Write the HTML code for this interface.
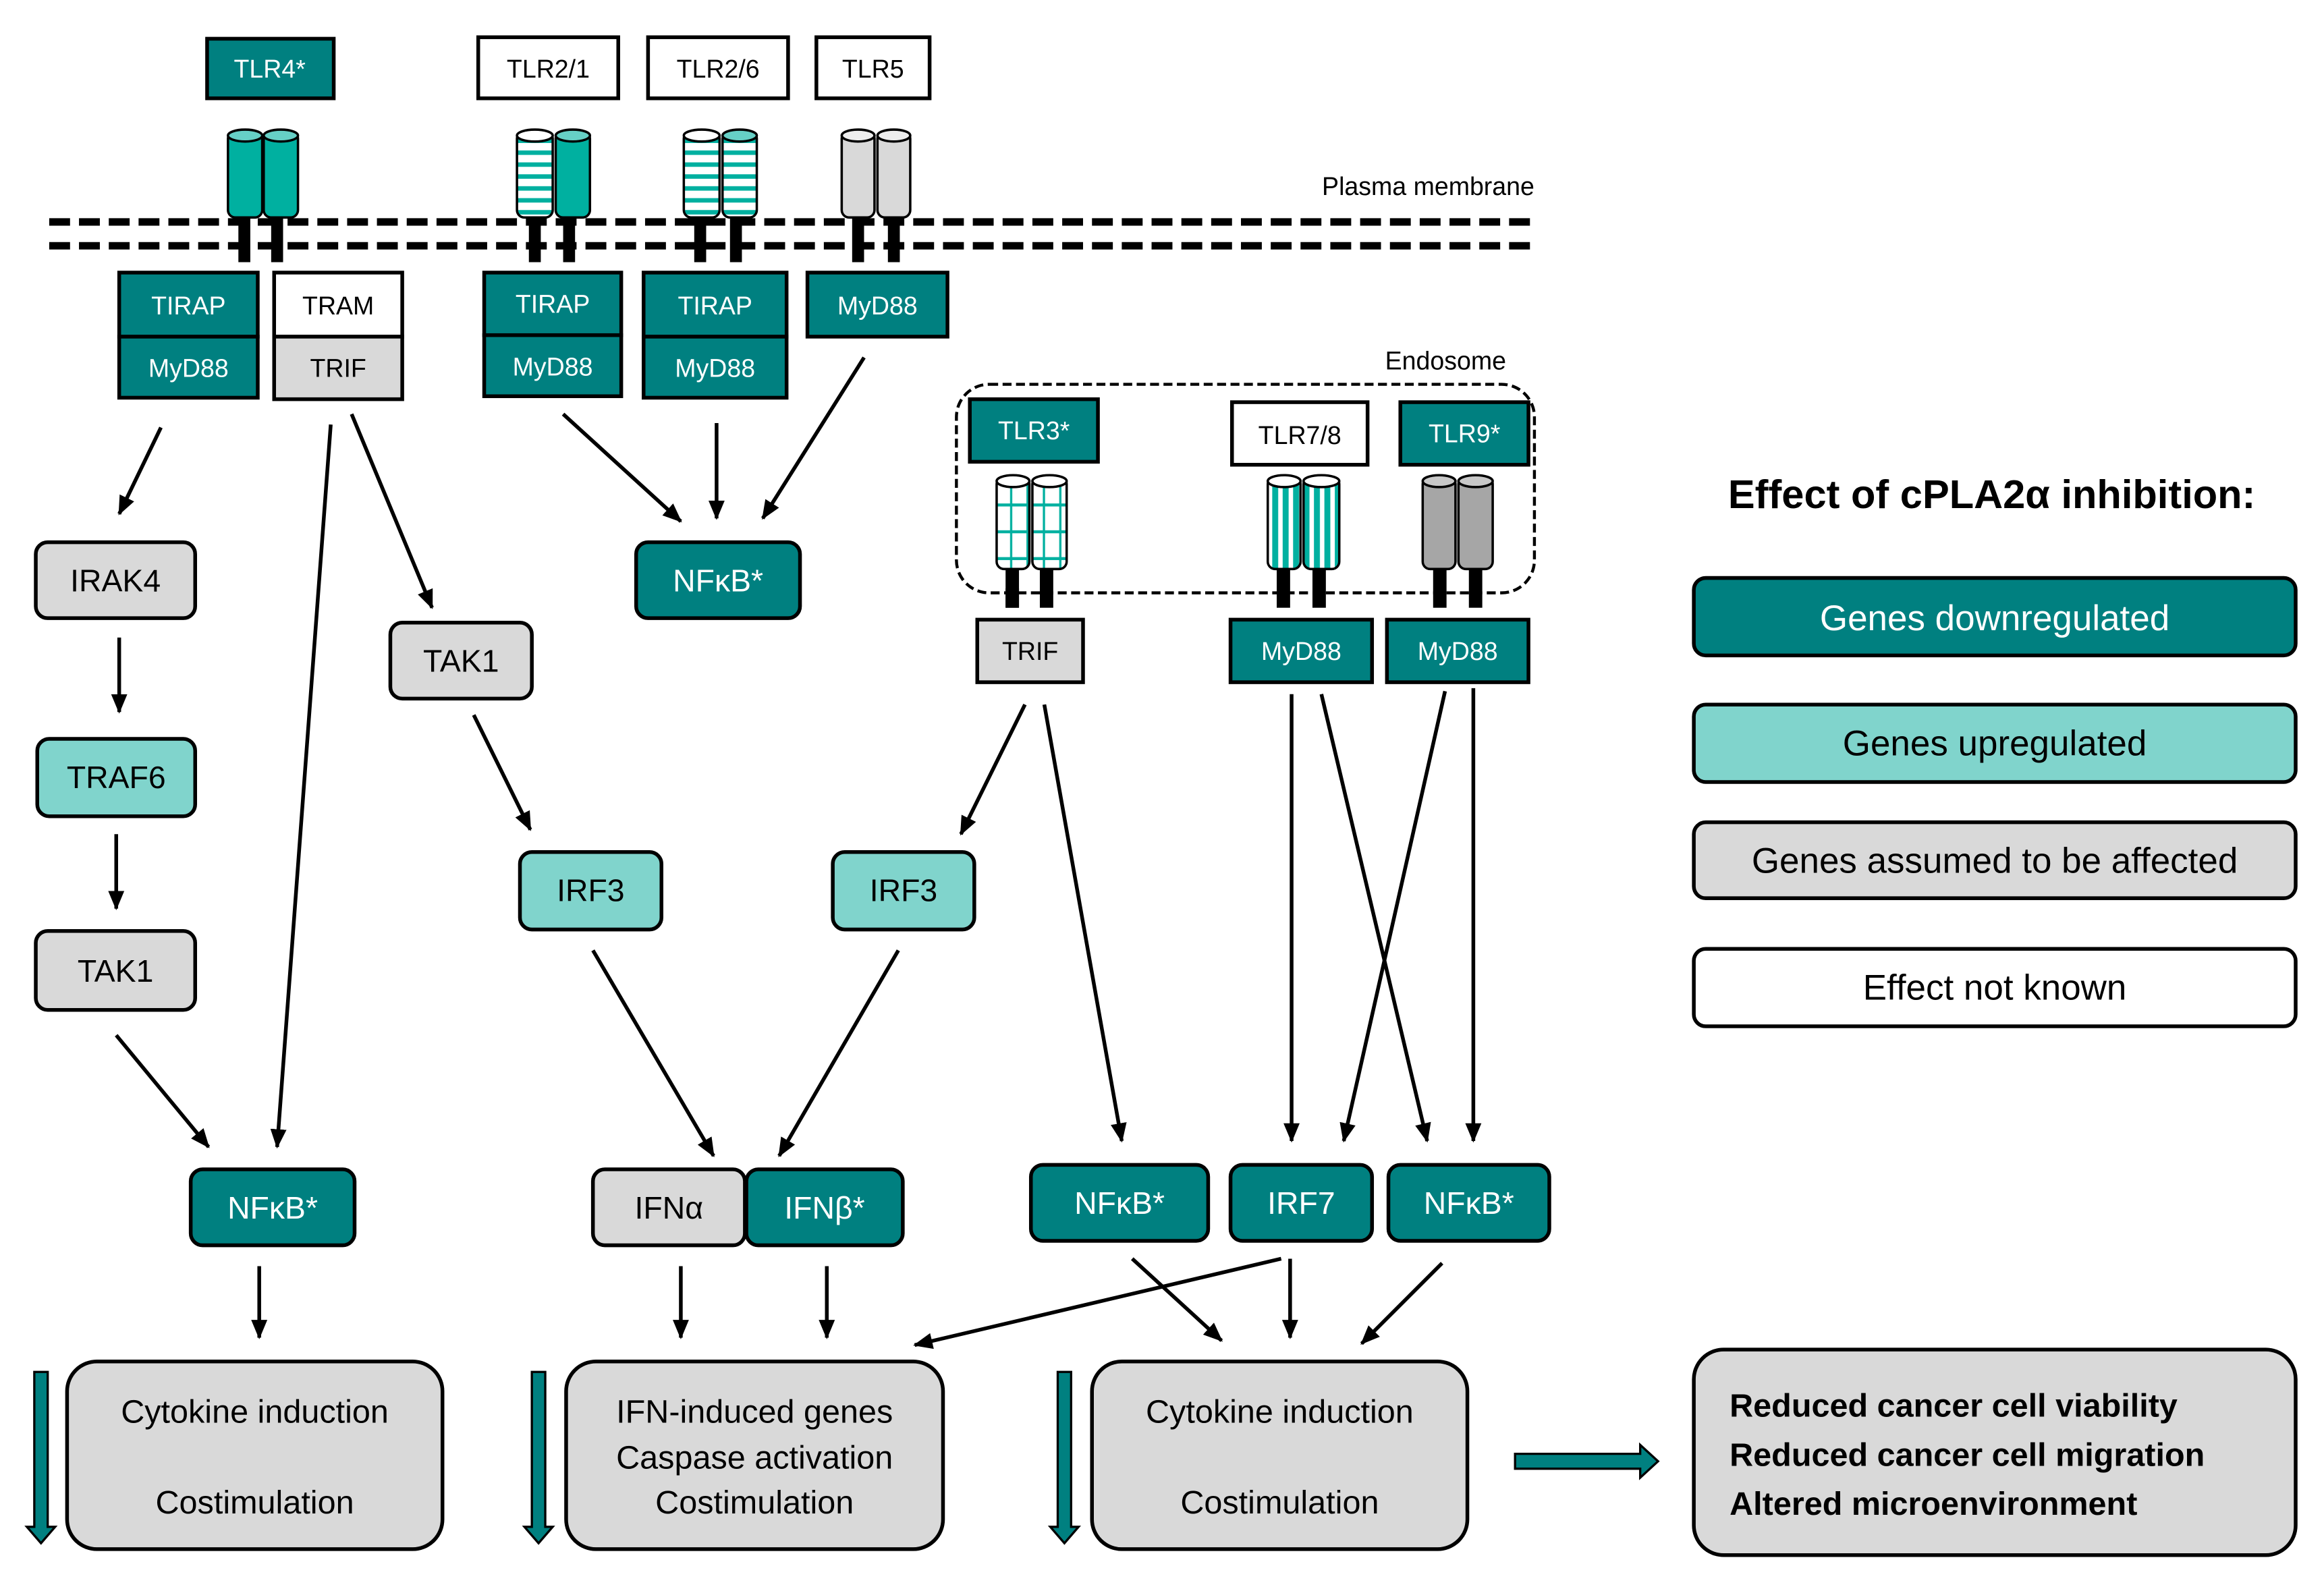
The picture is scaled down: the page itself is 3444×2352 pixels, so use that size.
<!DOCTYPE html>
<html><head><meta charset="utf-8"><style>html,body{margin:0;padding:0;background:#fff}svg{display:block}text{font-family:"Liberation Sans",sans-serif}</style></head><body>
<svg width="3444" height="2352" viewBox="0 0 1560 1065.4" xmlns="http://www.w3.org/2000/svg">
<defs>
<marker id="ah" viewBox="0 0 10 10" refX="9" refY="5" markerWidth="6" markerHeight="6" orient="auto-start-reverse" markerUnits="userSpaceOnUse"><path d="M0,0 L10,5 L0,10 z" fill="#000"/></marker>
<marker id="a" viewBox="0 0 12 10" refX="11" refY="5" markerWidth="13" markerHeight="11" orient="auto" markerUnits="userSpaceOnUse"><path d="M0,0 L12,5 L0,10 z" fill="#000"/></marker>
<pattern id="hs" width="10" height="8" patternUnits="userSpaceOnUse"><rect width="10" height="8" fill="#fff"/><rect y="5" width="10" height="3" fill="#00b0a0"/></pattern>
<pattern id="vs" width="7" height="10" patternUnits="userSpaceOnUse"><rect width="7" height="10" fill="#fff"/><rect width="4" height="10" fill="#00b0a0"/></pattern>
<pattern id="gr" width="11" height="18" patternUnits="userSpaceOnUse"><rect width="11" height="18" fill="#fff"/><rect x="7" width="1.5" height="18" fill="#00b0a0"/><rect y="14" width="11" height="2" fill="#00b0a0"/></pattern>
</defs>
<g stroke="#000" stroke-width="2.5" font-size="17" text-anchor="middle">
<!-- top boxes -->
<rect x="139" y="26" width="85" height="40" fill="#008080"/><text x="181" y="52" fill="#fff" stroke="none">TLR4*</text>
<rect x="321" y="25" width="94" height="41" fill="#fff"/><text x="368" y="52" fill="#000" stroke="none">TLR2/1</text>
<rect x="435" y="25" width="94" height="41" fill="#fff"/><text x="482" y="52" fill="#000" stroke="none">TLR2/6</text>
<rect x="548" y="25" width="76" height="41" fill="#fff"/><text x="586" y="52" fill="#000" stroke="none">TLR5</text>
</g>
<!-- membrane -->
<g stroke="#000" stroke-width="5" stroke-dasharray="14 6">
<line x1="33" y1="149" x2="1032" y2="149"/><line x1="33" y1="165" x2="1032" y2="165"/></g>
<text x="1030" y="131" font-size="17" text-anchor="end">Plasma membrane</text>
<!-- receptors -->
<g fill="#000">
<rect x="160" y="140" width="8" height="36"/><rect x="182" y="140" width="8" height="36"/>
<rect x="355" y="140" width="8" height="36"/><rect x="378" y="140" width="8" height="36"/>
<rect x="466" y="140" width="8" height="36"/><rect x="490" y="140" width="8" height="36"/>
<rect x="572" y="140" width="8" height="36"/><rect x="596" y="140" width="8" height="36"/>
<rect x="675" y="395" width="9" height="13"/><rect x="698" y="380" width="9" height="28"/>
<rect x="857" y="380" width="9" height="28"/><rect x="881" y="380" width="9" height="28"/>
<rect x="962" y="380" width="9" height="28"/><rect x="986" y="380" width="9" height="28"/>
<rect x="675" y="380" width="9" height="28"/>
</g>
<g stroke="#000" stroke-width="1.6">
<rect x="153" y="88" width="23" height="58" rx="5" fill="#00b0a0"/><ellipse cx="164.5" cy="91" rx="11.5" ry="4" fill="#66d0c6"/>
<rect x="177" y="88" width="23" height="58" rx="5" fill="#00b0a0"/><ellipse cx="188.5" cy="91" rx="11.5" ry="4" fill="#66d0c6"/>
<rect x="347" y="88" width="24" height="58" rx="5" fill="url(#hs)"/><ellipse cx="359" cy="91" rx="12" ry="4" fill="#fff"/>
<rect x="373" y="88" width="23" height="58" rx="5" fill="#00b0a0"/><ellipse cx="384.5" cy="91" rx="11.5" ry="4" fill="#66d0c6"/>
<rect x="459" y="88" width="24" height="58" rx="5" fill="url(#hs)"/><ellipse cx="471" cy="91" rx="12" ry="4" fill="#fff"/>
<rect x="485" y="88" width="23" height="58" rx="5" fill="url(#hs)"/><ellipse cx="496.5" cy="91" rx="11.5" ry="4" fill="#66d0c6"/>
<rect x="565" y="88" width="22" height="58" rx="5" fill="#d9d9d9"/><ellipse cx="576" cy="91" rx="11" ry="4" fill="#eee"/>
<rect x="589" y="88" width="22" height="58" rx="5" fill="#d9d9d9"/><ellipse cx="600" cy="91" rx="11" ry="4" fill="#eee"/>
<rect x="669" y="320" width="22" height="62" rx="5" fill="url(#gr)"/><ellipse cx="680" cy="323" rx="11" ry="4" fill="#fff"/>
<rect x="693" y="320" width="23" height="62" rx="5" fill="url(#gr)"/><ellipse cx="704.5" cy="323" rx="11.5" ry="4" fill="#fff"/>
<rect x="851" y="320" width="22" height="62" rx="5" fill="url(#vs)"/><ellipse cx="862" cy="323" rx="11" ry="4" fill="#fff"/>
<rect x="875" y="320" width="24" height="62" rx="5" fill="url(#vs)"/><ellipse cx="887" cy="323" rx="12" ry="4" fill="#fff"/>
<rect x="955" y="320" width="22" height="62" rx="5" fill="#a6a6a6"/><ellipse cx="966" cy="323" rx="11" ry="4" fill="#c8c8c8"/>
<rect x="979" y="320" width="23" height="62" rx="5" fill="#a6a6a6"/><ellipse cx="990.5" cy="323" rx="11.5" ry="4" fill="#c8c8c8"/>
</g>
<!-- endosome -->
<rect x="642" y="258" width="388" height="140" rx="22" fill="none" stroke="#000" stroke-width="2" stroke-dasharray="6 3"/>
<text x="1011" y="248" font-size="17" text-anchor="end">Endosome</text>
<g stroke="#000" stroke-width="2.5" font-size="17" text-anchor="middle">
<rect x="80" y="183" width="93" height="43" fill="#008080"/><text x="126.5" y="211" fill="#fff" stroke="none">TIRAP</text>
<rect x="80" y="226" width="93" height="41" fill="#008080"/><text x="126.5" y="253" fill="#fff" stroke="none">MyD88</text>
<rect x="184" y="183" width="86" height="43" fill="#fff"/><text x="227" y="211" fill="#000" stroke="none">TRAM</text>
<rect x="184" y="226" width="86" height="42" fill="#d9d9d9"/><text x="227" y="253" fill="#000" stroke="none">TRIF</text>
<rect x="325" y="183" width="92" height="42" fill="#008080"/><text x="371" y="210" fill="#fff" stroke="none">TIRAP</text>
<rect x="325" y="225" width="92" height="41" fill="#008080"/><text x="371" y="252" fill="#fff" stroke="none">MyD88</text>
<rect x="432" y="183" width="96" height="43" fill="#008080"/><text x="480" y="211" fill="#fff" stroke="none">TIRAP</text>
<rect x="432" y="226" width="96" height="41" fill="#008080"/><text x="480" y="253" fill="#fff" stroke="none">MyD88</text>
<rect x="542" y="183" width="94" height="43" fill="#008080"/><text x="589" y="211" fill="#fff" stroke="none">MyD88</text>
<rect x="651" y="268" width="86" height="42" fill="#008080"/><text x="694" y="295" fill="#fff" stroke="none">TLR3*</text>
<rect x="827" y="270" width="91" height="42" fill="#fff"/><text x="872.5" y="298" fill="#000" stroke="none">TLR7/8</text>
<rect x="940" y="270" width="86" height="42" fill="#008080"/><text x="983" y="297" fill="#fff" stroke="none">TLR9*</text>
<rect x="656" y="416" width="71" height="42" fill="#d9d9d9"/><text x="691.5" y="443" fill="#000" stroke="none">TRIF</text>
<rect x="826" y="416" width="95" height="42" fill="#008080"/><text x="873.5" y="443" fill="#fff" stroke="none">MyD88</text>
<rect x="931" y="416" width="95" height="42" fill="#008080"/><text x="978.5" y="443" fill="#fff" stroke="none">MyD88</text>
</g>
<!-- rounded nodes -->
<g stroke="#000" stroke-width="2.5" font-size="21" text-anchor="middle">
<rect x="24" y="364" width="107" height="51" rx="8" fill="#d9d9d9"/><text x="77.5" y="397" stroke="none">IRAK4</text>
<rect x="25" y="496" width="106" height="52" rx="8" fill="#80d4cc"/><text x="78" y="529" stroke="none">TRAF6</text>
<rect x="24" y="625" width="107" height="53" rx="8" fill="#d9d9d9"/><text x="77.5" y="659" stroke="none">TAK1</text>
<rect x="262" y="418" width="95" height="51" rx="8" fill="#d9d9d9"/><text x="309.5" y="451" stroke="none">TAK1</text>
<rect x="427" y="364" width="110" height="51" rx="8" fill="#008080"/><text x="482" y="397" fill="#fff" stroke="none">NFκB*</text>
<rect x="349" y="572" width="95" height="52" rx="8" fill="#80d4cc"/><text x="396.5" y="605" stroke="none">IRF3</text>
<rect x="559" y="572" width="95" height="52" rx="8" fill="#80d4cc"/><text x="606.5" y="605" stroke="none">IRF3</text>
<rect x="128" y="785" width="110" height="51" rx="8" fill="#008080"/><text x="183" y="818" fill="#fff" stroke="none">NFκB*</text>
<rect x="398" y="785" width="102" height="51" rx="8" fill="#d9d9d9"/><text x="449" y="818" stroke="none">IFNα</text>
<rect x="501" y="785" width="105" height="51" rx="8" fill="#008080"/><text x="553.5" y="818" fill="#fff" stroke="none">IFNβ*</text>
<rect x="692" y="782" width="119" height="51" rx="8" fill="#008080"/><text x="751.5" y="815" fill="#fff" stroke="none">NFκB*</text>
<rect x="826" y="782" width="95" height="51" rx="8" fill="#008080"/><text x="873.5" y="815" fill="#fff" stroke="none">IRF7</text>
<rect x="932" y="782" width="108" height="51" rx="8" fill="#008080"/><text x="986" y="815" fill="#fff" stroke="none">NFκB*</text>
</g>
<!-- bottom boxes -->
<g stroke="#000" stroke-width="2.5" font-size="22" text-anchor="middle">
<rect x="45" y="914" width="252" height="126" rx="20" fill="#d9d9d9"/>
<text x="171" y="955" stroke="none">Cytokine induction</text><text x="171" y="1016" stroke="none">Costimulation</text>
<rect x="380" y="914" width="253" height="126" rx="20" fill="#d9d9d9"/>
<text x="506.5" y="955" stroke="none">IFN-induced genes</text><text x="506.5" y="986" stroke="none">Caspase activation</text><text x="506.5" y="1016" stroke="none">Costimulation</text>
<rect x="733" y="914" width="252" height="126" rx="20" fill="#d9d9d9"/>
<text x="859" y="955" stroke="none">Cytokine induction</text><text x="859" y="1016" stroke="none">Costimulation</text>
<rect x="1137" y="906" width="404" height="138" rx="20" fill="#d9d9d9"/>
<g text-anchor="start" font-weight="bold" stroke="none"><text x="1161" y="951">Reduced cancer cell viability</text><text x="1161" y="984">Reduced cancer cell migration</text><text x="1161" y="1017">Altered microenvironment</text></g>
</g>
<!-- teal arrows -->
<g fill="#008080" stroke="#000" stroke-width="1.5">
<path d="M23,921 h9 v104 h5 l-9.5,11 l-9.5,-11 h5 z"/>
<path d="M357,921 h9 v104 h5 l-9.5,11 l-9.5,-11 h5 z"/>
<path d="M710,921 h9 v104 h5 l-9.5,11 l-9.5,-11 h5 z"/>
<path d="M1017,976 h84 v-6 l12,11 l-12,11 v-6 h-84 z"/>
</g>
<!-- legend -->
<text x="1337" y="341" font-size="27" font-weight="bold" text-anchor="middle">Effect of cPLA2α inhibition:</text>
<g stroke="#000" stroke-width="2.5" font-size="24" text-anchor="middle">
<rect x="1137" y="388" width="404" height="52" rx="8" fill="#008080"/><text x="1339" y="423" fill="#fff" stroke="none">Genes downregulated</text>
<rect x="1137" y="473" width="404" height="52" rx="8" fill="#80d4cc"/><text x="1339" y="507" stroke="none">Genes upregulated</text>
<rect x="1137" y="552" width="404" height="51" rx="8" fill="#d9d9d9"/><text x="1339" y="586" stroke="none">Genes assumed to be affected</text>
<rect x="1137" y="637" width="404" height="52" rx="8" fill="#fff"/><text x="1339" y="671" stroke="none">Effect not known</text>
</g>
<!-- connectors -->
<g stroke="#000" stroke-width="2.5" marker-end="url(#a)">
<line x1="108" y1="287" x2="80" y2="345"/>
<line x1="80" y1="428" x2="80" y2="478"/>
<line x1="78" y1="560" x2="78" y2="610"/>
<line x1="78" y1="695" x2="140" y2="770"/>
<line x1="222" y1="285" x2="186" y2="770"/>
<line x1="236" y1="278" x2="290" y2="408"/>
<line x1="318" y1="480" x2="356" y2="557"/>
<line x1="378" y1="278" x2="457" y2="350"/>
<line x1="481" y1="284" x2="481" y2="348"/>
<line x1="580" y1="240" x2="512" y2="348"/>
<line x1="398" y1="638" x2="479" y2="776"/>
<line x1="603" y1="638" x2="523" y2="776"/>
<line x1="688" y1="473" x2="645" y2="560"/>
<line x1="701" y1="473" x2="753" y2="766"/>
<line x1="867" y1="466" x2="867" y2="766"/>
<line x1="887" y1="466" x2="958" y2="766"/>
<line x1="970" y1="464" x2="902" y2="766"/>
<line x1="989" y1="462" x2="989" y2="766"/>
<line x1="174" y1="850" x2="174" y2="898"/>
<line x1="457" y1="850" x2="457" y2="898"/>
<line x1="555" y1="850" x2="555" y2="898"/>
<line x1="860" y1="845" x2="614" y2="903"/>
<line x1="760" y1="845" x2="820" y2="900"/>
<line x1="866" y1="845" x2="866" y2="898"/>
<line x1="968" y1="848" x2="914" y2="902"/>
</g>
</svg>
</body></html>
